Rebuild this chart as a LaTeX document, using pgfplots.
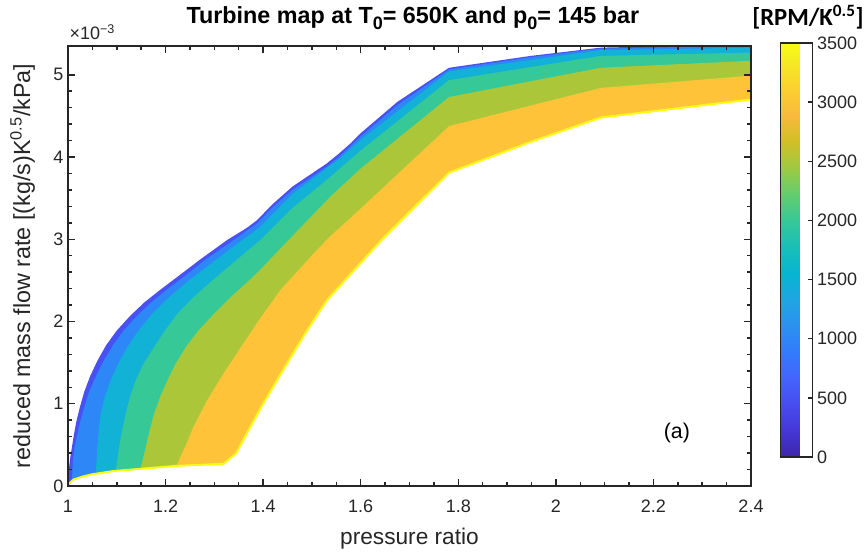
\documentclass[border=0pt]{standalone}
\usepackage{fontspec}
\setmainfont{Liberation Sans}
\newfontfamily\carlito{Carlito}
\usepackage{pgfplots}
\pgfplotsset{compat=1.18}

\definecolor{axgray}{RGB}{38,38,38}
% band colours (parula at 500, 1000, ..., 3500)
\definecolor{pc1}{rgb}{0.2810,0.3228,0.9579}
\definecolor{pc2}{rgb}{0.1786,0.5289,0.9682}
\definecolor{pc3}{rgb}{0.0689,0.6948,0.8394}
\definecolor{pc4}{rgb}{0.2161,0.7843,0.5923}
\definecolor{pc5}{rgb}{0.6720,0.7793,0.2227}
\definecolor{pc6}{rgb}{0.9970,0.7659,0.2199}
\definecolor{pc7}{rgb}{0.9769,0.9839,0.0805}

\pgfplotsset{colormap={parula}{
  rgb(0pt)=(0.2422,0.1504,0.6603)
  rgb(4pt)=(0.2706,0.2147,0.8364)
  rgb(8pt)=(0.2813,0.3006,0.9414)
  rgb(12pt)=(0.2699,0.3892,0.9906)
  rgb(16pt)=(0.1963,0.4847,0.9892)
  rgb(20pt)=(0.1687,0.5703,0.9359)
  rgb(24pt)=(0.1248,0.6459,0.8883)
  rgb(28pt)=(0.0297,0.7082,0.8163)
  rgb(32pt)=(0.0964,0.7500,0.7120)
  rgb(36pt)=(0.2161,0.7843,0.5923)
  rgb(40pt)=(0.3909,0.8029,0.4354)
  rgb(44pt)=(0.6174,0.7876,0.2612)
  rgb(48pt)=(0.8203,0.7498,0.1535)
  rgb(52pt)=(0.9728,0.7298,0.2394)
  rgb(56pt)=(0.9892,0.8136,0.1885)
  rgb(60pt)=(0.9597,0.9135,0.1423)
  rgb(63pt)=(0.9769,0.9839,0.0805)
}}
\newcommand\tsub[1]{\raisebox{-0.55ex}{\fontsize{13.5}{14}\selectfont #1}}

\begin{document}
\begin{tikzpicture}
\useasboundingbox (-51pt,-51pt) rectangle (598.5pt,364.5pt);
\begin{axis}[
    name=main,
    scale only axis,
    width=512.25pt,
    height=330pt,
    xmin=1, xmax=2.4,
    ymin=0, ymax=5.35,
    xtick={1,1.2,1.4,1.6,1.8,2,2.2,2.4},
    ytick={0,1,2,3,4,5},
    minor x tick num=3,
    minor y tick num=4,
    tick align=inside,
    major tick length=5.5pt,
    minor tick length=3pt,
    axis line style={axgray, line width=1.1pt},
    every tick/.style={axgray, line width=1.1pt},
    tick label style={font=\fontsize{13.5}{16}\selectfont, text=axgray},
    /pgf/number format/assume math mode=true,
    xticklabel style={yshift=-7pt},
    xlabel={pressure ratio},
    ylabel={reduced mass flow rate [(kg/s)K\textsuperscript{0.5}/kPa]},
    xlabel style={at={(axis description cs:0.5,-0.1318)}, anchor=base, font=\fontsize{17}{20}\selectfont, text=axgray},
    ylabel style={at={(axis description cs:-0.0556,0.5)}, rotate=0, anchor=base, font=\fontsize{17.5}{20}\selectfont, text=axgray},
    title={Turbine map at T\tsub{0}= 650K and p\tsub{0}= 145 bar},
    title style={at={(axis description cs:0.505,1.034)}, anchor=base, font=\fontsize{17.5}{20}\selectfont\bfseries},
    axis on top,
    colorbar,
    point meta min=0, point meta max=3500,
    colormap name=parula,
    colorbar style={
        at={(parent axis.north east)}, anchor=north west,
        xshift=13.5pt, yshift=2.25pt,
        width=24pt, height=310.5pt,
        ytick={0,500,1000,1500,2000,2500,3000,3500},
        ytick pos=right, yticklabel pos=right,
        tick align=inside,
        major tick length=3.5pt,
        scaled y ticks=false,
        /pgf/number format/1000 sep={},
        /pgf/number format/assume math mode=true,
        tick label style={font=\fontsize{13.5}{16}\selectfont, text=axgray},
        axis line style={axgray, line width=1.1pt},
        every tick/.style={axgray, line width=1pt},
    },
]
% under the outer edge (lowest band)
\addplot[fill=pc1, draw=none] coordinates {
 (1,0) (1.002,0.22) (1.005,0.36) (1.008,0.47) (1.012,0.62) (1.017,0.78) (1.024,0.95)
 (1.033,1.14) (1.045,1.33) (1.060,1.52) (1.078,1.71) (1.100,1.89) (1.126,2.06) (1.156,2.23)
 (1.19,2.39) (1.228,2.56) (1.27,2.75) (1.326,2.99) (1.367,3.14) (1.387,3.23) (1.42,3.43)
 (1.46,3.64) (1.53,3.92) (1.555,4.04) (1.58,4.17) (1.60,4.29) (1.675,4.67) (1.781,5.085)
 (1.949,5.23) (2.092,5.33) (2.4,5.37) (2.5,5.37) (2.5,-1) (1,-1)
} -- cycle;
\addplot[fill=pc2, draw=none] coordinates {
 (1.008,0.062) (1.010,0.30) (1.013,0.45) (1.019,0.62) (1.025,0.78) (1.033,0.95) (1.043,1.14)
 (1.057,1.33) (1.073,1.52) (1.092,1.71) (1.114,1.89) (1.140,2.06) (1.170,2.23) (1.203,2.39)
 (1.241,2.56) (1.281,2.75) (1.330,2.95) (1.387,3.19) (1.42,3.39) (1.46,3.60) (1.53,3.88)
 (1.555,4.00) (1.60,4.25) (1.675,4.63) (1.781,5.065) (1.949,5.215) (2.092,5.318) (2.4,5.355)
 (2.5,5.355) (2.5,-1) (1.008,-1)
} -- cycle;
\addplot[fill=pc3, draw=none] coordinates {
 (1.057,0.15) (1.0585,0.30) (1.0602,0.474) (1.0630,0.68) (1.0671,0.881) (1.0755,1.085)
 (1.0876,1.286) (1.103,1.49) (1.1218,1.691) (1.145,1.895) (1.1732,2.097) (1.208,2.30)
 (1.2485,2.502) (1.29,2.69) (1.33,2.87) (1.394,3.15) (1.46,3.55) (1.538,3.90) (1.555,3.97)
 (1.60,4.21) (1.781,5.04) (2.092,5.30) (2.4,5.33) (2.5,5.33) (2.5,-1) (1.057,-1)
} -- cycle;
\addplot[fill=pc4, draw=none] coordinates {
 (1.098,0.186) (1.1012,0.33) (1.1047,0.474) (1.1110,0.68) (1.1184,0.881) (1.127,1.085)
 (1.1389,1.286) (1.155,1.49) (1.1766,1.691) (1.199,1.895) (1.2245,2.097) (1.258,2.30)
 (1.2964,2.502) (1.345,2.745) (1.394,2.99) (1.46,3.38) (1.538,3.76) (1.60,4.08) (1.781,4.935)
 (2.092,5.23) (2.4,5.27) (2.5,5.27) (2.5,-1) (1.098,-1)
} -- cycle;
\addplot[fill=pc5, draw=none] coordinates {
 (1.149,0.209) (1.154,0.34) (1.1595,0.474) (1.1675,0.68) (1.1766,0.881) (1.189,1.085)
 (1.2040,1.286) (1.221,1.49) (1.2416,1.691) (1.268,1.895) (1.2998,2.097) (1.334,2.30)
 (1.3717,2.502) (1.394,2.63) (1.46,3.04) (1.538,3.52) (1.60,3.86) (1.781,4.73) (2.092,5.085)
 (2.4,5.17) (2.5,5.17) (2.5,-1) (1.149,-1)
} -- cycle;
\addplot[fill=pc6, draw=none] coordinates {
 (1.223,0.245) (1.231,0.36) (1.240,0.474) (1.257,0.718) (1.285,1.04) (1.319,1.37) (1.367,1.80)
 (1.394,2.04) (1.435,2.38) (1.504,2.83) (1.538,3.04) (1.572,3.22) (1.641,3.60) (1.781,4.376)
 (2.092,4.84) (2.4,4.99) (2.5,4.99) (2.5,-1) (1.223,-1)
} -- cycle;
% outside of the map, edged by the top speed line
\addplot[fill=white, draw=pc7, line width=1.5pt] coordinates {
 (0.9,0) (1,0) (1.004,0.04) (1.011,0.078) (1.03,0.115) (1.049,0.142) (1.093,0.182) (1.151,0.21)
 (1.223,0.245) (1.319,0.27) (1.345,0.40) (1.372,0.70) (1.40,1.0) (1.45,1.50) (1.49,1.89)
 (1.531,2.26) (1.641,2.98) (1.781,3.81) (1.949,4.185) (2.092,4.48) (2.4,4.70) (2.5,4.70)
 (2.5,-1) (0.9,-1)
} -- cycle;
\node[font=\fontsize{16}{19}\selectfont, text=black] at (axis cs:2.248,0.644) {(a)};
\end{axis}
\node[anchor=base west, font=\fontsize{13.5}{16}\selectfont, text=axgray, inner sep=0pt]
  at ([xshift=1pt,yshift=4.5pt]main.north west) {×10\textsuperscript{−3}};
\node[anchor=base, font=\carlito\bfseries\fontsize{18.5}{21}\selectfont, inner sep=0pt]
  at ([xshift=42.75pt,yshift=15.5pt]main.north east) {[RPM/K\textsuperscript{0.5}]};
\end{tikzpicture}
\end{document}
